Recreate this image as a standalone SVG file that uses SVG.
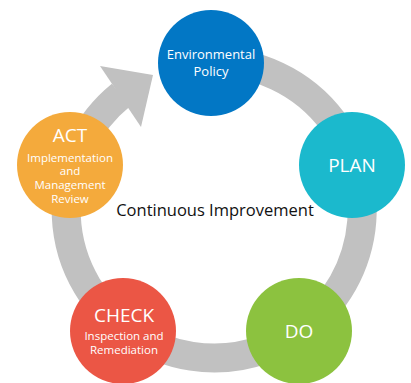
<svg xmlns="http://www.w3.org/2000/svg" width="411" height="383" viewBox="0 0 411 383">
<style>
.t{font-family:"Open Sans","Noto Sans",sans-serif;fill:#fff;text-anchor:middle}
.big{font-size:19px}
.sm{font-size:11.5px}
.mid{font-size:13px}
</style>
<rect width="411" height="383" fill="#fff"/>
<g id="connectors">
<path d="M214 62 A148 148 0 1 1 121 95" fill="none" stroke="#c1c1c1" stroke-width="29"/>
<polygon points="153,75 100,66 141,127" fill="#c1c1c1"/>
</g>
<g id="policy">
<circle cx="211" cy="63" r="53" fill="#0277c5"/>
<text class="t mid" x="211" y="59">Environmental</text>
<text class="t mid" x="211" y="76">Policy</text>
</g>
<g id="plan">
<circle cx="352" cy="165" r="53" fill="#1bb9cd"/>
<text class="t big" x="352" y="172">PLAN</text>
</g>
<g id="do">
<circle cx="299" cy="331" r="53" fill="#8cc23f"/>
<text class="t big" x="299" y="338">DO</text>
</g>
<g id="check">
<circle cx="123" cy="331" r="53" fill="#eb5645"/>
<text class="t big" x="124" y="322">CHECK</text>
<text class="t sm" x="124" y="340">Inspection and</text>
<text class="t sm" x="124" y="354">Remediation</text>
</g>
<g id="act">
<circle cx="70" cy="165" r="53" fill="#f4aa3c"/>
<text class="t big" x="70" y="142">ACT</text>
<text class="t sm" x="70" y="162">Implementation</text>
<text class="t sm" x="70" y="175">and</text>
<text class="t sm" x="70" y="189">Management</text>
<text class="t sm" x="70" y="203">Review</text>
</g>
<text x="215" y="216" font-family="Open Sans, Noto Sans, sans-serif" font-size="16.5" fill="#111" text-anchor="middle">Continuous Improvement</text>
</svg>
